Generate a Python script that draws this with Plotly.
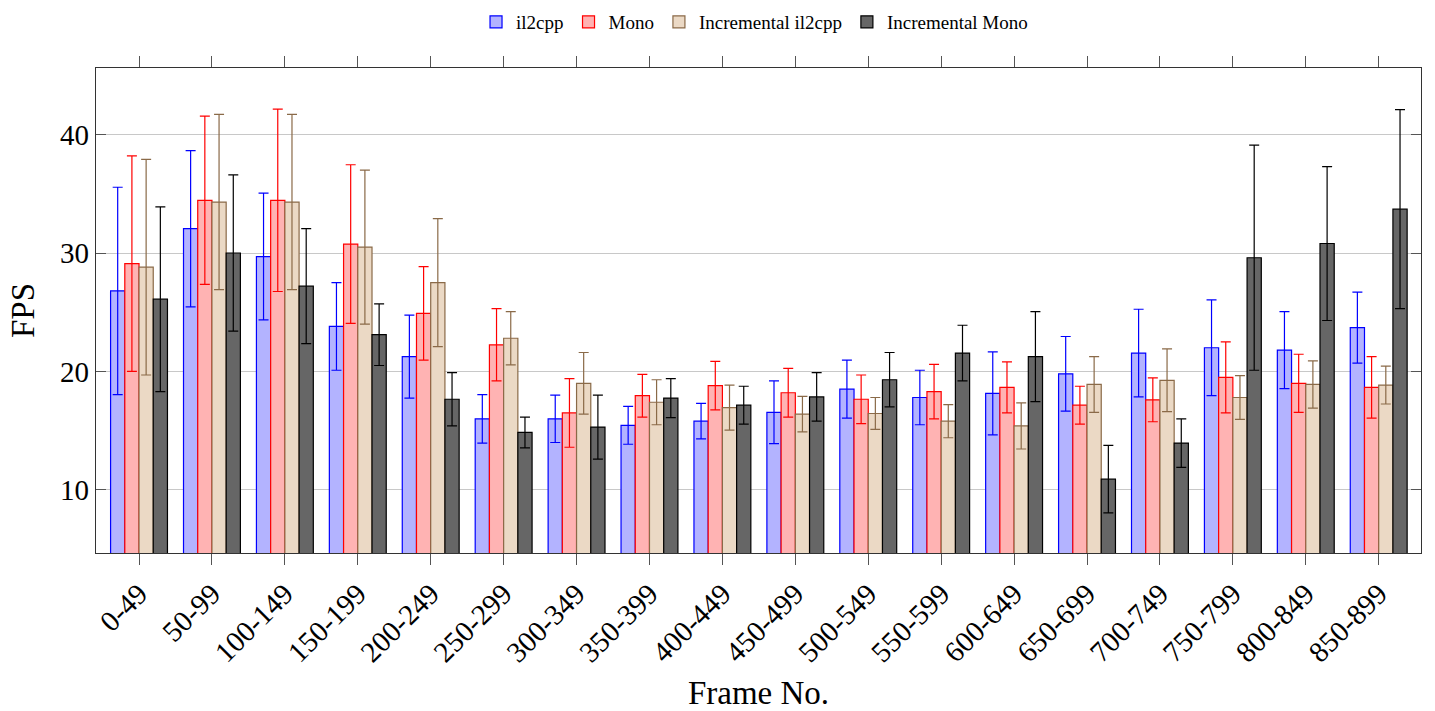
import plotly.graph_objects as go

categories = ["0-49", "50-99", "100-149", "150-199", "200-249", "250-299", "300-349",
              "350-399", "400-449", "450-499", "500-549", "550-599", "600-649", "650-699",
              "700-749", "750-799", "800-849", "850-899"]

il2cpp = [26.8, 32.05, 29.7, 23.8, 21.25, 16.0, 16.0, 15.45, 15.8, 16.55, 18.5, 17.8, 18.15, 19.8, 21.55, 22.0, 21.8, 23.7]
il2cpp_err = [8.75, 6.6, 5.35, 3.7, 3.5, 2.05, 2.0, 1.6, 1.5, 2.65, 2.45, 2.3, 3.5, 3.15, 3.7, 4.05, 3.25, 3.0]

mono = [29.1, 34.45, 34.45, 30.75, 24.9, 22.25, 16.5, 17.95, 18.8, 18.2, 17.65, 18.3, 18.65, 17.15, 17.6, 19.5, 19.0, 18.65]
mono_err = [9.1, 7.1, 7.7, 6.7, 3.95, 3.05, 2.9, 1.8, 2.05, 2.05, 2.05, 2.3, 2.15, 1.6, 1.85, 3.0, 2.45, 2.6]

inc_il2cpp = [28.8, 34.3, 34.3, 30.5, 27.5, 22.8, 19.0, 17.4, 16.95, 16.4, 16.45, 15.8, 15.4, 18.9, 19.25, 17.8, 18.9, 18.85]
inc_il2cpp_err = [9.1, 7.4, 7.4, 6.5, 5.4, 2.25, 2.6, 1.9, 1.9, 1.5, 1.35, 1.4, 1.95, 2.35, 2.65, 1.85, 2.0, 1.6]

inc_mono = [26.1, 30.0, 27.2, 23.1, 17.65, 14.85, 15.3, 17.75, 17.15, 17.85, 19.3, 21.55, 21.25, 10.9, 13.95, 29.6, 30.8, 33.7]
inc_mono_err = [7.8, 6.6, 4.85, 2.6, 2.25, 1.3, 2.7, 1.65, 1.6, 2.05, 2.3, 2.35, 3.8, 2.85, 2.05, 9.5, 6.5, 8.4]

y_ticks = [10, 20, 30, 40]

series = [
    ("il2cpp", il2cpp, il2cpp_err, "#B3B3FF", "#0000FF"),
    ("Mono", mono, mono_err, "#FFB3B3", "#FF0000"),
    ("Incremental il2cpp", inc_il2cpp, inc_il2cpp_err, "#EBD9C5", "#8A6A48"),
    ("Incremental Mono", inc_mono, inc_mono_err, "#666666", "#000000"),
]

FONT = "Liberation Serif"

fig = go.Figure()
for name, vals, errs, fill, line in series:
    fig.add_trace(go.Bar(
        name=name,
        x=categories,
        y=vals,
        marker=dict(color=fill, line=dict(color=line, width=1.2)),
        error_y=dict(type="data", array=errs, visible=True, color=line,
                     thickness=1.2, width=5),
    ))

fig.update_layout(
    width=1435, height=711,
    margin=dict(l=96, r=14, t=68, b=158),
    paper_bgcolor="white",
    plot_bgcolor="white",
    barmode="group",
    bargap=0.22,
    bargroupgap=0,
    font=dict(family=FONT, color="black"),
    showlegend=True,
    legend=dict(orientation="h", x=0.497, xanchor="center", y=0.969, yanchor="middle",
                yref="container", font=dict(family=FONT, size=19),
                bgcolor="rgba(0,0,0,0)"),
    xaxis=dict(
        type="category",
        range=[-0.59, 17.58],
        tickangle=-45,
        ticks="outside", ticklen=11, tickcolor="#555555", tickwidth=1,
        mirror="ticks",
        showline=True, linecolor="#333333", linewidth=1.3,
        showgrid=False,
        automargin=False,
        tickfont=dict(family=FONT, size=29),
        title=dict(text="Frame No.", font=dict(family=FONT, size=33)),
    ),
    yaxis=dict(
        range=[4.67, 45.62],
        tickvals=y_ticks,
        ticks="inside", ticklen=10, tickcolor="#555555", tickwidth=1,
        mirror="ticks",
        showline=True, linecolor="#333333", linewidth=1.3,
        showgrid=True, gridcolor="#C8C8C8", gridwidth=1,
        zeroline=False,
        automargin=False,
        tickfont=dict(family=FONT, size=29),
        title=dict(text="FPS", font=dict(family=FONT, size=33)),
    ),
)

fig.write_html("out.html")
